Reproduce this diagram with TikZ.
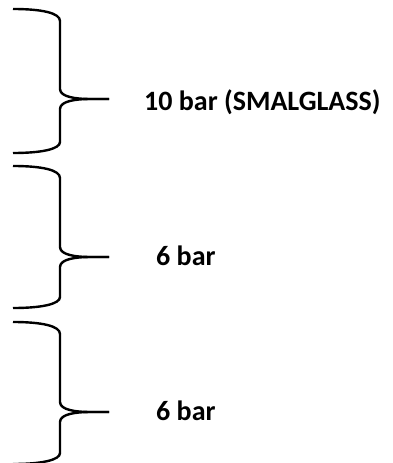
\documentclass[tikz,border=0pt]{standalone}
\usepackage{fontspec}
\setmainfont{Carlito}
\tikzset{
  bracestroke/.style={line width=2.4pt, black, line cap=butt},
  lbl/.style={anchor=base west, inner sep=0pt, font=\fontsize{28}{30}\selectfont\bfseries}
}
\newcommand{\mybrace}[3]{%
  \draw[bracestroke] (13,#1) .. controls (42,#1) and (60,#1+4) .. (60,#1+12)
    -- (60,#2-10) .. controls (60,#2-2) and (76,#2) .. (90,#2) -- (109,#2);
  \draw[bracestroke] (109,#2) -- (90,#2) .. controls (76,#2) and (60,#2+2) .. (60,#2+10)
    -- (60,#3-11) .. controls (60,#3-4) and (42,#3) .. (13,#3);
}
\begin{document}
\begin{tikzpicture}[x=1pt,y=-1pt]
\useasboundingbox (0,0) rectangle (393,463);
\mybrace{9}{99}{153}
\mybrace{166}{257}{308}
\mybrace{322}{412}{464}
\node[lbl] (t1) at (144,110) {10 bar (SMALGLASS)};
\node[lbl] (t2) at (156,265) {6 bar};
\node[lbl] (t3) at (156,420) {6 bar};
\end{tikzpicture}
\end{document}
